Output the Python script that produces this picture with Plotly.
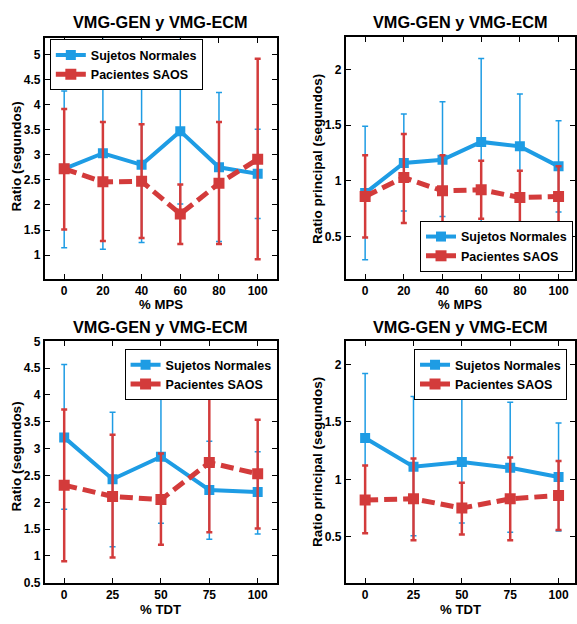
import plotly.graph_objects as go

# ---------------- data ----------------
x_mps = [0, 20, 40, 60, 80, 100]
x_tdt = [0, 25, 50, 75, 100]

# Panel 1: Ratio vs % MPS
p1_norm = [2.72, 3.03, 2.80, 3.47, 2.75, 2.62]
p1_norm_hi = [4.27, 5.60, 4.37, 5.60, 4.24, 3.51]
p1_norm_lo = [1.15, 1.12, 1.25, 2.02, 1.27, 1.73]
p1_saos = [2.72, 2.46, 2.47, 1.82, 2.43, 2.91]
p1_saos_hi = [3.91, 3.65, 3.61, 2.41, 3.65, 4.91]
p1_saos_lo = [1.51, 1.28, 1.34, 1.22, 1.22, 0.92]

# Panel 2: Ratio principal vs % MPS
p2_norm = [0.89, 1.16, 1.19, 1.35, 1.31, 1.13]
p2_norm_hi = [1.49, 1.60, 1.71, 2.10, 1.78, 1.54]
p2_norm_lo = [0.29, 0.73, 0.68, 0.61, 0.84, 0.72]
p2_saos = [0.86, 1.03, 0.91, 0.92, 0.85, 0.86]
p2_saos_hi = [1.23, 1.42, 1.23, 1.18, 1.09, 1.13]
p2_saos_lo = [0.49, 0.62, 0.58, 0.66, 0.61, 0.59]

# Panel 3: Ratio vs % TDT
p3_norm = [3.21, 2.43, 2.85, 2.23, 2.19]
p3_norm_hi = [4.57, 3.68, 4.07, 3.14, 2.94]
p3_norm_lo = [1.87, 1.17, 1.61, 1.31, 1.41]
p3_saos = [2.32, 2.11, 2.05, 2.74, 2.53]
p3_saos_hi = [3.73, 3.26, 2.91, 4.06, 3.54]
p3_saos_lo = [0.90, 0.97, 1.21, 1.44, 1.51]

# Panel 4: Ratio principal vs % TDT
p4_norm = [1.36, 1.11, 1.15, 1.10, 1.02]
p4_norm_hi = [1.92, 1.72, 1.70, 1.67, 1.49]
p4_norm_lo = [0.80, 0.51, 0.62, 0.54, 0.55]
p4_saos = [0.82, 0.83, 0.75, 0.83, 0.86]
p4_saos_hi = [1.12, 1.18, 0.97, 1.19, 1.16]
p4_saos_lo = [0.53, 0.47, 0.52, 0.47, 0.56]

title_text = "VMG-GEN y VMG-ECM"
name_norm = "Sujetos Normales"
name_saos = "Pacientes SAOS"

# ---------------- style ----------------
W, H = 577, 624
BLUE = "#1E9CE4"
RED = "#D33B3B"
FONT = "Liberation Sans, Arial, Helvetica, sans-serif"

fig = go.Figure()

panels = [
    (x_mps, p1_norm, p1_norm_hi, p1_norm_lo, p1_saos, p1_saos_hi, p1_saos_lo, "x", "y", "legend"),
    (x_mps, p2_norm, p2_norm_hi, p2_norm_lo, p2_saos, p2_saos_hi, p2_saos_lo, "x2", "y2", "legend2"),
    (x_tdt, p3_norm, p3_norm_hi, p3_norm_lo, p3_saos, p3_saos_hi, p3_saos_lo, "x3", "y3", "legend3"),
    (x_tdt, p4_norm, p4_norm_hi, p4_norm_lo, p4_saos, p4_saos_hi, p4_saos_lo, "x4", "y4", "legend4"),
]

for xs, n, nh, nl, s, sh, sl, xa, ya, lg in panels:
    fig.add_trace(go.Scatter(
        x=xs, y=n, name=name_norm, mode="lines+markers",
        xaxis=xa, yaxis=ya, legend=lg,
        line=dict(color=BLUE, width=4),
        marker=dict(symbol="square", size=10, color=BLUE),
        error_y=dict(type="data", symmetric=False,
                     array=[h - c for h, c in zip(nh, n)],
                     arrayminus=[c - l for l, c in zip(nl, n)],
                     color=BLUE, thickness=1.5, width=3),
    ))
    fig.add_trace(go.Scatter(
        x=xs, y=s, name=name_saos, mode="lines+markers",
        xaxis=xa, yaxis=ya, legend=lg,
        line=dict(color=RED, width=5, dash="13px,6px"),
        marker=dict(symbol="square", size=11, color=RED),
        error_y=dict(type="data", symmetric=False,
                     array=[h - c for h, c in zip(sh, s)],
                     arrayminus=[c - l for l, c in zip(sl, s)],
                     color=RED, thickness=2.5, width=3),
    ))

def px_x(p):
    return p / W

def px_y(p):
    return 1 - p / H

axis_common = dict(
    showline=True, linewidth=2, linecolor="black", mirror="ticks",
    ticks="inside", ticklen=5, tickwidth=1.2, tickcolor="black",
    showgrid=False, zeroline=False,
    tickfont=dict(family=FONT, size=12, color="black", weight="bold"),
)

# domains in pixel coords
dom = {
    1: ((45, 278), (32, 278)),
    2: ((347, 577), (31, 278)),
    3: ((45, 278), (342, 589)),
    4: ((347, 577), (342, 589)),
}
xr = {1: [-10, 110], 2: [-10, 108.5], 3: [-10, 110], 4: [-10, 108.5]}
yr = {1: [0.53, 5.32], 2: [0.12, 2.29], 3: [0.5, 5.0], 4: [0.1, 2.2]}
ytv = {1: [1, 1.5, 2, 2.5, 3, 3.5, 4, 4.5, 5], 2: [0.5, 1, 1.5, 2],
       3: [0.5, 1, 1.5, 2, 2.5, 3, 3.5, 4, 4.5, 5], 4: [0.5, 1, 1.5, 2]}
xtv = {1: x_mps, 2: x_mps, 3: x_tdt, 4: x_tdt}

lay = {}
for i in range(1, 5):
    (x0, x1), (y0, y1) = dom[i]
    kx = "xaxis" if i == 1 else f"xaxis{i}"
    ky = "yaxis" if i == 1 else f"yaxis{i}"
    lay[kx] = dict(axis_common, domain=[px_x(x0), px_x(x1)], range=xr[i],
                   tickvals=xtv[i], anchor="y" if i == 1 else f"y{i}")
    lay[ky] = dict(axis_common, domain=[px_y(y1), px_y(y0)], range=yr[i],
                   tickvals=ytv[i], anchor="x" if i == 1 else f"x{i}")

leg_common = dict(bgcolor="white", bordercolor="black", borderwidth=1,
                  font=dict(family=FONT, size=12.5, color="black", weight="bold"),
                  tracegroupgap=0, itemwidth=30)
lay["legend"] = dict(leg_common, x=px_x(50), y=px_y(33), xanchor="left", yanchor="top")
lay["legend2"] = dict(leg_common, x=px_x(575), y=px_y(271), xanchor="right", yanchor="bottom")
lay["legend3"] = dict(leg_common, x=px_x(125), y=px_y(350), xanchor="left", yanchor="top")
lay["legend4"] = dict(leg_common, x=px_x(569), y=px_y(350), xanchor="right", yanchor="top")

annotations = []
def ann(text, xp, yp, size, angle=0):
    annotations.append(dict(
        text=text, x=px_x(xp), y=px_y(yp), xref="paper", yref="paper",
        showarrow=False, xanchor="center", yanchor="middle", textangle=angle,
        font=dict(family=FONT, size=size, color="black", weight="bold")))

ann(title_text, 161.5, 15, 16.3)
ann(title_text, 462, 15, 16.3)
ann(title_text, 161.5, 327, 16.3)
ann(title_text, 462, 327, 16.3)
ann("% MPS", 161.5, 304, 13.2)
ann("% MPS", 462, 304, 13.2)
ann("% TDT", 161.5, 616, 13.2)
ann("% TDT", 462, 616, 13.2)
ann("Ratio (segundos)", 17, 153, 13.5, -90)
ann("Ratio principal (segundos)", 318.5, 155, 13.5, -90)
ann("Ratio (segundos)", 17, 460, 13.5, -90)
ann("Ratio principal (segundos)", 318.5, 465, 13.5, -90)

fig.update_layout(
    width=W, height=H, margin=dict(l=0, r=0, t=0, b=0),
    paper_bgcolor="white", plot_bgcolor="white",
    annotations=annotations, **lay,
)

fig.write_html("out.html", config={"displayModeBar": False})
